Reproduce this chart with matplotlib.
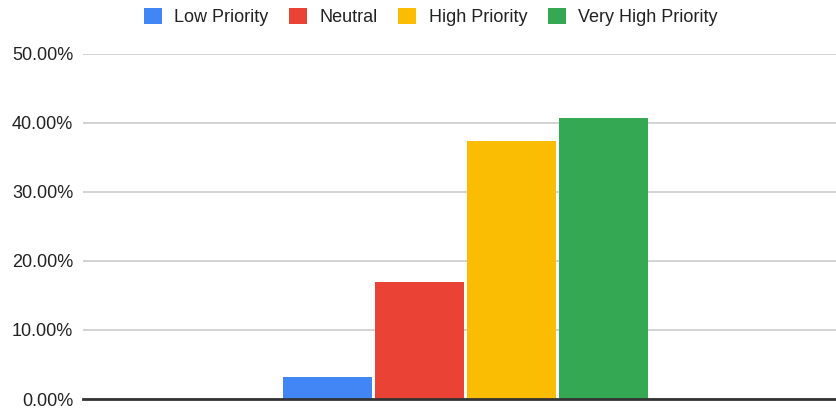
import matplotlib
matplotlib.use("Agg")
import matplotlib.pyplot as plt
from matplotlib.ticker import FuncFormatter

series = ["Low Priority", "Neutral", "High Priority", "Very High Priority"]
values = [0.032, 0.169, 0.373, 0.407]
colors = ["#4285F4", "#EA4335", "#FBBC04", "#34A853"]
yticks = [0.0, 0.1, 0.2, 0.3, 0.4, 0.5]

plt.rcParams['font.family'] = ['Liberation Sans', 'DejaVu Sans']

W, H = 836, 409
fig = plt.figure(figsize=(W / 100, H / 100), dpi=100)
left, right = 83, 848
bottom, top = 399, 53.5
ax = fig.add_axes([left / W, (H - bottom) / H, (right - left) / W, (bottom - top) / H])

bw = 89 / (right - left)
pitch = 92.2 / (right - left)
n = len(series)
for i, (name, v, c) in enumerate(zip(series, values, colors)):
    x = (i - (n - 1) / 2) * pitch
    ax.bar(x, v, width=bw, color=c, label=name, zorder=3)

ax.set_xlim(-0.5, 0.5)
ax.set_ylim(0, 0.5)
ax.set_yticks(yticks)
ax.yaxis.set_major_formatter(FuncFormatter(lambda v, p: f"{v*100:.2f}%"))
ax.set_xticks([])
ax.grid(axis='y', color='#cccccc', linewidth=1.2, zorder=0)
for s in ['top', 'right', 'left']:
    ax.spines[s].set_visible(False)
ax.spines['bottom'].set_color('#333333')
ax.spines['bottom'].set_linewidth(2)
ax.spines['bottom'].set_zorder(4)
ax.tick_params(axis='y', length=0, pad=7, labelsize=13, labelcolor='#222222')

fig.legend(loc='center', bbox_to_anchor=(430.8 / W, 1 - 17 / H), ncol=4,
           frameon=False, fontsize=13, handlelength=1.0, handleheight=1.0,
           handletextpad=0.68, columnspacing=1.15, borderaxespad=0, borderpad=0,
           labelcolor='#222222')

fig.savefig("out.png", dpi=100)
